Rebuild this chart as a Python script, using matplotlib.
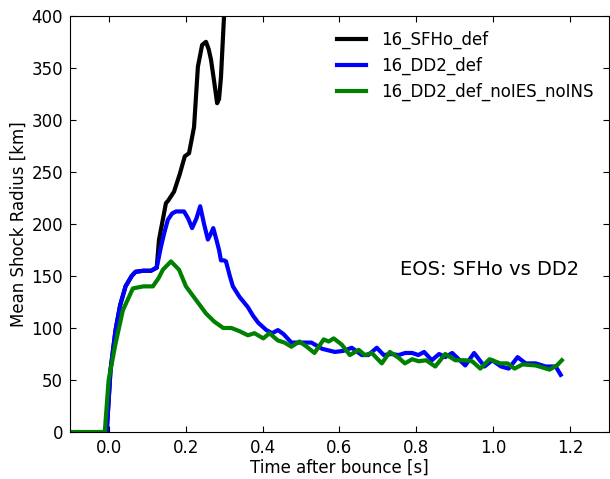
import matplotlib
matplotlib.use("Agg")
import matplotlib.pyplot as plt

# shock radius curves (time after bounce [s], radius [km])
t_sfho = [-0.1, -0.005, 0.005, 0.018, 0.03, 0.044, 0.06, 0.07, 0.09, 0.11,
          0.125, 0.131, 0.149, 0.154, 0.17, 0.185, 0.198, 0.209, 0.222, 0.232,
          0.243, 0.253, 0.26, 0.266, 0.275, 0.282, 0.287, 0.292, 0.3, 0.31]
r_sfho = [0, 0, 60, 98, 122, 140, 150, 154, 155, 155,
          158, 185, 220, 222, 231, 248, 265, 268, 293, 351,
          372, 375, 368, 358, 335, 316, 320, 341, 400, 460]

t_dd2 = [-0.1, -0.005, 0.005, 0.018, 0.03, 0.044, 0.06, 0.07, 0.09, 0.11,
         0.125, 0.136, 0.145, 0.154, 0.165, 0.175, 0.196, 0.207, 0.217, 0.228,
         0.238, 0.248, 0.258, 0.265, 0.272, 0.28, 0.287, 0.292, 0.3, 0.305,
         0.315, 0.323, 0.34, 0.362, 0.375, 0.389, 0.41, 0.425, 0.44, 0.455,
         0.475, 0.5, 0.527, 0.555, 0.588, 0.61, 0.632, 0.658, 0.675, 0.697,
         0.715, 0.735, 0.754, 0.771, 0.789, 0.805, 0.82, 0.84, 0.859, 0.875,
         0.893, 0.91, 0.927, 0.95, 0.977, 0.997, 1.02, 1.04, 1.063, 1.084,
         1.11, 1.136, 1.162, 1.175]
r_dd2 = [0, 0, 60, 98, 122, 140, 150, 154, 155, 155,
         158, 178, 192, 204, 210, 212, 212, 205, 196, 205,
         217, 200, 185, 190, 196, 185, 175, 165, 165, 164,
         150, 140, 130, 120, 112, 105, 98, 95, 98, 94,
         86, 86, 86, 80, 77, 78, 81, 74, 74, 81,
         74, 75, 74, 76, 76, 74, 77, 69, 75, 72,
         76, 70, 64, 76, 63, 69, 63, 61, 72, 66,
         66, 63, 63, 55]

t_noies = [-0.1, -0.01, 0.0, 0.018, 0.037, 0.063, 0.09, 0.115, 0.13, 0.141,
           0.162, 0.183, 0.201, 0.227, 0.253, 0.275, 0.298, 0.319, 0.34, 0.362,
           0.379, 0.402, 0.418, 0.44, 0.457, 0.475, 0.496, 0.515, 0.535, 0.559,
           0.572, 0.585, 0.606, 0.627, 0.65, 0.666, 0.684, 0.71, 0.731, 0.755,
           0.77, 0.789, 0.806, 0.825, 0.849, 0.875, 0.901, 0.927, 0.945, 0.966,
           0.99, 1.018, 1.037, 1.055, 1.076, 1.11, 1.146, 1.165, 1.178]
r_noies = [0, 0, 50, 85, 117, 138, 140, 140, 148, 156,
           164, 156, 140, 127, 114, 106, 100, 100, 97, 93,
           95, 90, 95, 88, 86, 82, 87, 82, 76, 89,
           87, 90, 84, 74, 79, 74, 76, 66, 77, 71,
           66, 70, 68, 69, 63, 75, 69, 69, 68, 61,
           70, 66, 66, 61, 65, 64, 60, 64, 69]

labels = ["16_SFHo_def", "16_DD2_def", "16_DD2_def_noIES_noINS"]
colors = ["black", "blue", "green"]

fig = plt.figure(figsize=(6.1, 4.79), dpi=100)
ax = fig.add_axes([0.115, 0.098, 0.883, 0.869])

for t, r, lab, c in zip([t_sfho, t_dd2, t_noies], [r_sfho, r_dd2, r_noies], labels, colors):
    ax.plot(t, r, color=c, lw=3, label=lab, solid_joinstyle="round")

ax.set_xlim(-0.1, 1.3)
ax.set_ylim(0, 400)
ax.set_xticks([0.0, 0.2, 0.4, 0.6, 0.8, 1.0, 1.2])
ax.set_yticks(range(0, 401, 50))
ax.tick_params(direction="in", top=True, right=True, length=4, labelsize=12, pad=5)
ax.set_xlabel("Time after bounce [s]", fontsize=12, labelpad=1)
ax.set_ylabel("Mean Shock Radius [km]", fontsize=12, labelpad=3)

ax.text(0.99, 156, "EOS: SFHo vs DD2", fontsize=14, ha="center", va="center")
ax.legend(loc="upper right", frameon=False, fontsize=12, handlelength=1.75,
          handletextpad=0.9, borderaxespad=0.5, labelspacing=0.45)

fig.savefig("out.png", dpi=100)
